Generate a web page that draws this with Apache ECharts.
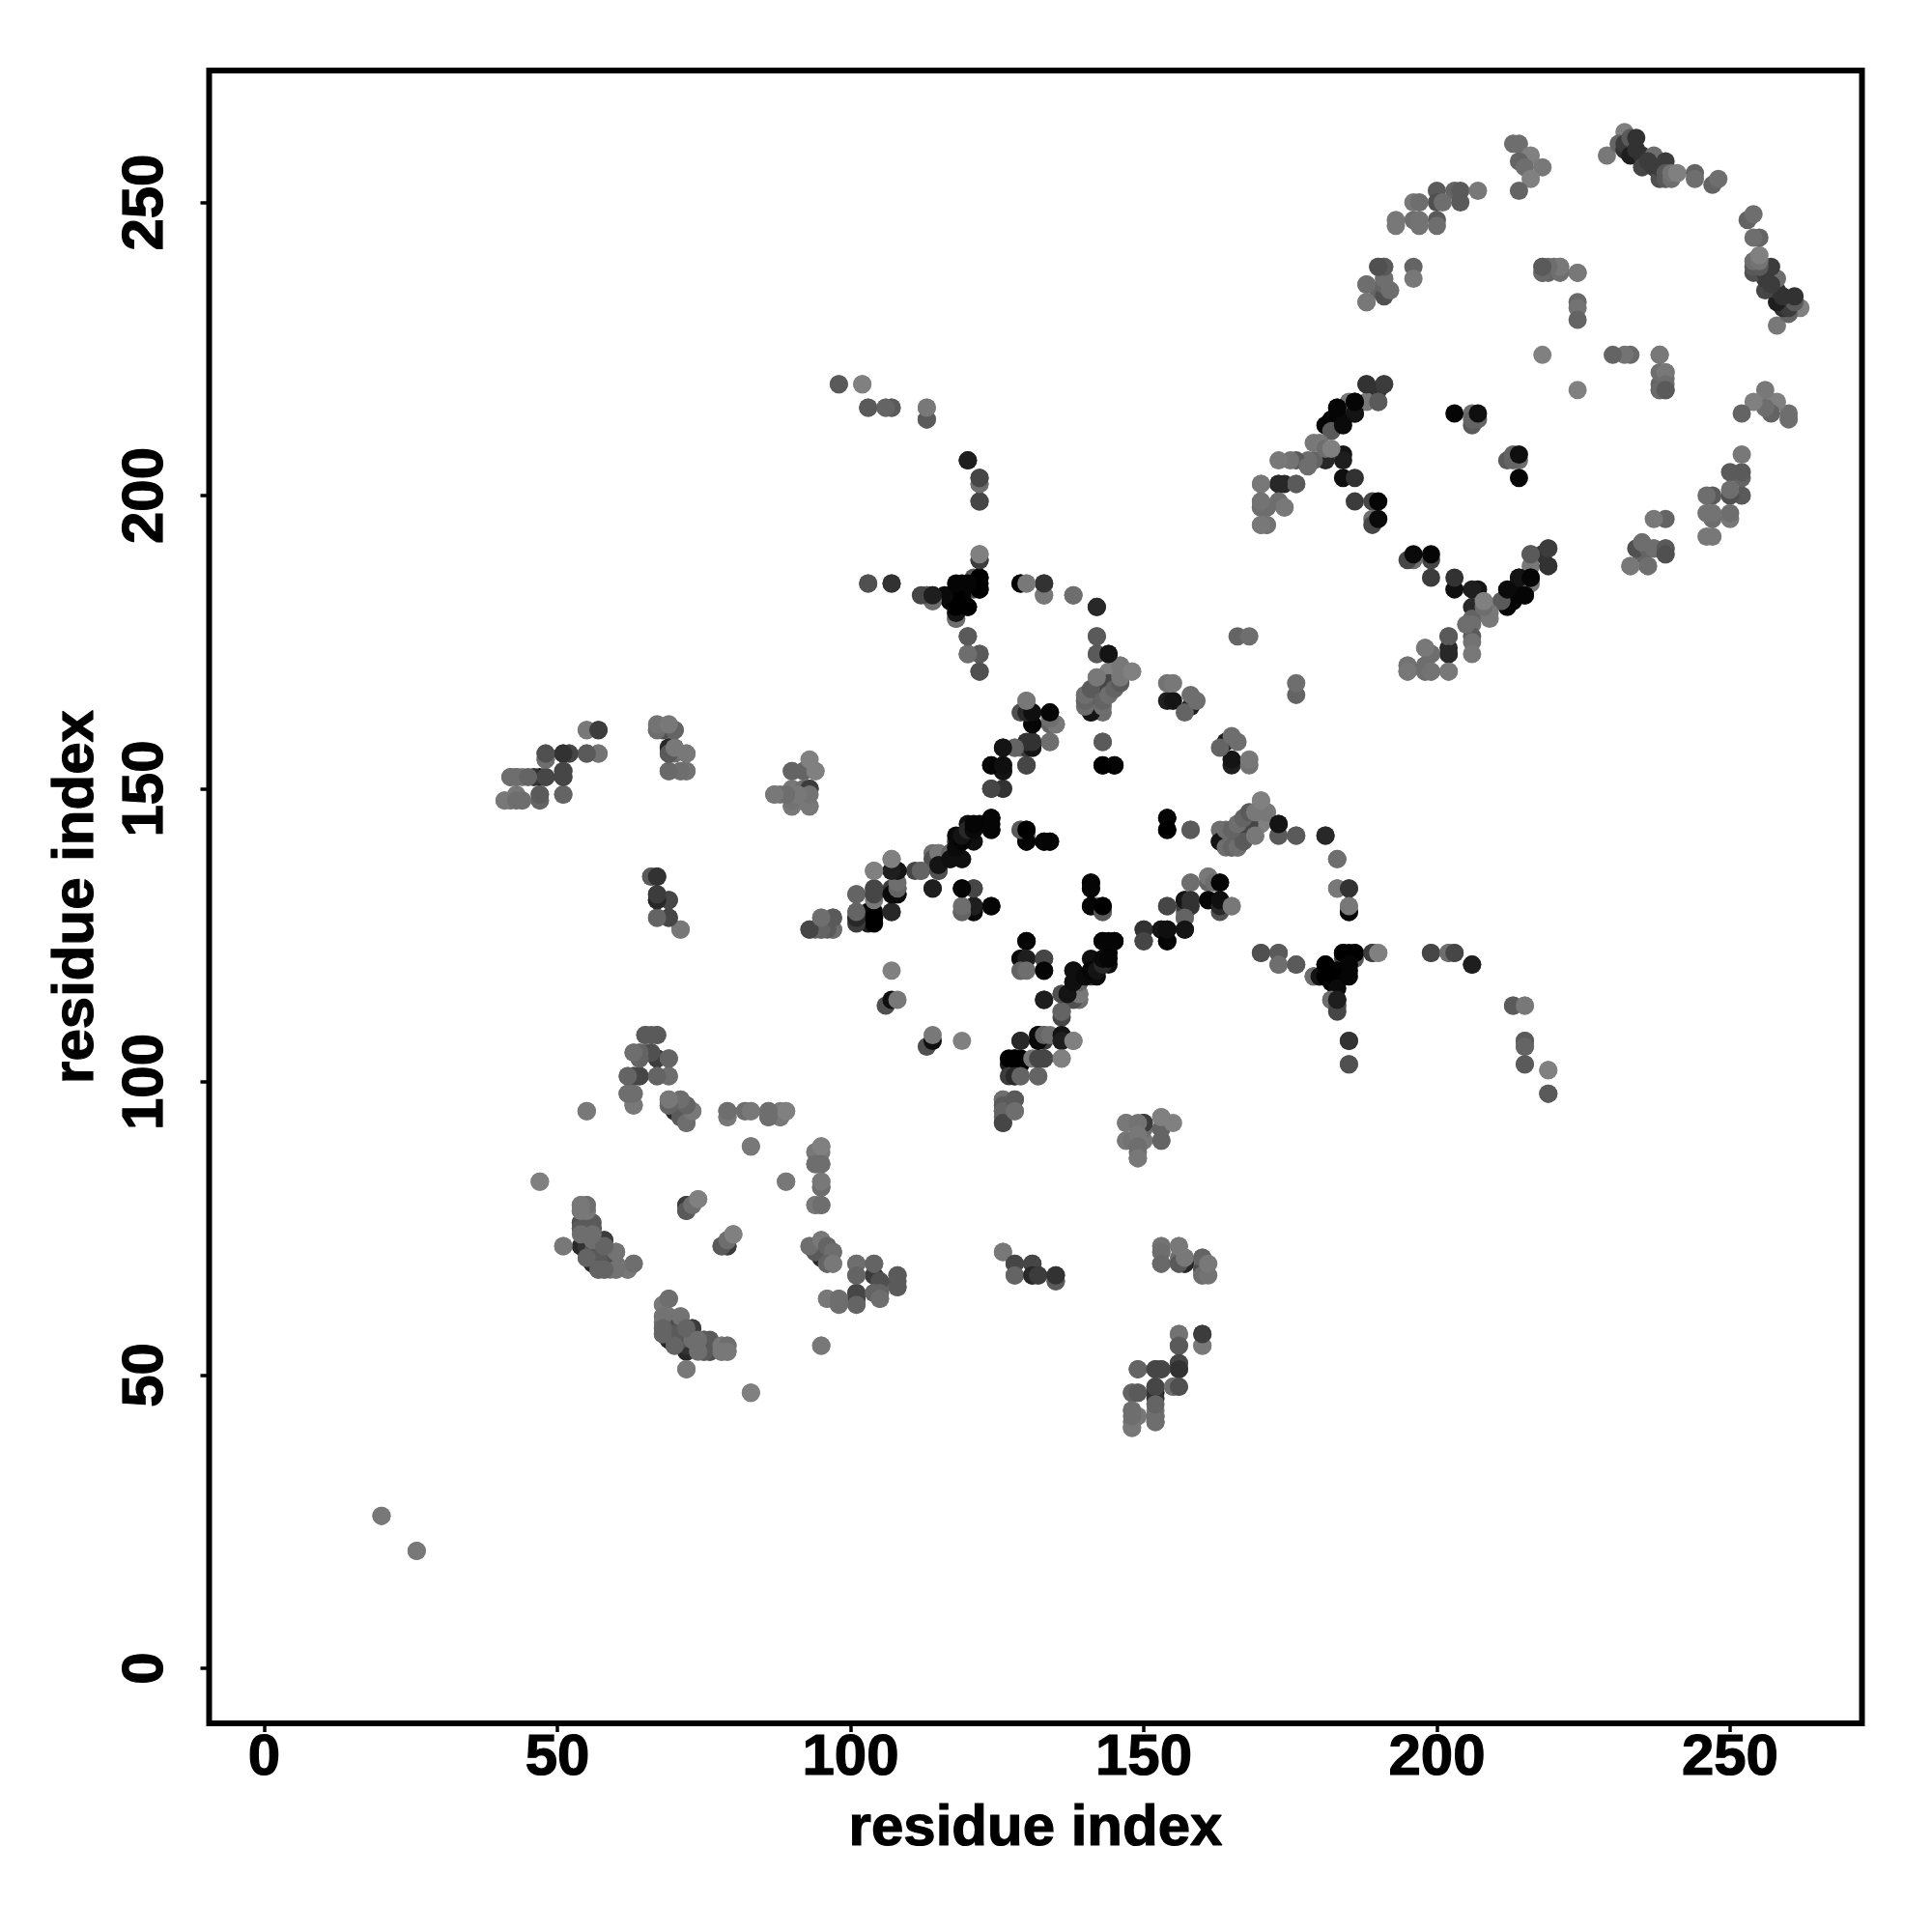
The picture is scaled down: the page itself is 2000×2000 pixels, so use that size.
<!DOCTYPE html>
<html>
<head>
<meta charset="utf-8">
<style>html,body{margin:0;padding:0;background:#fff}#c{width:2000px;height:2000px}</style>
<script src="https://cdn.jsdelivr.net/npm/echarts@6/dist/echarts.min.js"></script>
</head>
<body>
<div id="c"></div>
<script>
// Each row: residue i, residue j, grey level of the contact (0 black .. 128 mid grey)
const tickValues = [0, 50, 100, 150, 200, 250];
const axisTitle = "residue index";

const contactsFarEnd = [
[229,258,120],[232,262,128],[231,260,100],[232,259,50],[232,260,60],[233,258,30],[233,261,90],[234,261,50],[234,259,50],[235,258,50],[235,256,70],[237,258,110],[236,257,60],[237,256,60],[239,257,60],[238,254,80],[238,256,60],[239,255,90],[239,254,90],[240,254,110],[240,255,115],[241,255,128],[244,255,100],[244,254,110],[247,253,100],[248,254,110],
[213,260,110],[214,260,110],[216,258,128],[214,257,100],[215,256,110],[218,256,120],[216,254,128],[214,252,100],
[200,252,90],[203,252,100],[204,252,90],[207,252,120],[204,250,90],[200,250,80],[196,250,120],[197,250,110],[201,250,110],
[200,247,90],[193,247,120],[193,246,120],[196,247,110],[197,247,115],[197,246,115],[200,246,110],
[190,239,110],[191,239,100],[196,239,100],[196,237,120],[191,237,100],[190,235,100],[192,235,120],[188,236,120],[188,233,120],
[218,239,100],[219,238,100],[218,238,100],[220,239,110],[221,239,110],[224,238,120],[224,233,105],[224,232,115],[224,230,100],[218,224,128],
[238,224,120],[238,221,110],[239,221,120],[239,219,110],[238,218,105],[239,218,90],
[234,191,80],[236,191,100],[237,191,110],[239,191,90],[239,190,80],[235,192,110],[236,188,110],[233,188,120]
];

const contactsInnerRing = [
[188,219,70],[191,219,110],[190,218,50],[190,216,90],[188,216,120],[185,216,120],[186,216,10],[186,214,5],[183,215,5],[184,213,10],[182,213,5],[183,212,5],[181,212,5],[182,211,90],
[184,207,20],[184,206,30],[181,206,40],[179,206,100],[178,206,110],[176,206,90],[175,206,115],[173,206,120],[179,209,120],[180,209,120],[181,208,110],[182,208,128],
[178,205,110],[184,203,15],[186,203,50],[170,202,120],[173,202,40],[174,202,40],[176,202,90],[170,199,115],[173,199,110],[174,198,120],[171,198,115],[170,198,110],[170,195,120],[171,195,115],
[186,199,60],[189,199,70],[189,196,110],[189,195,70],[190,199,5],[190,196,10],
[206,214,110],[206,212,90],[206,213,100],[207,213,100],[203,214,5],[207,214,15],
[216,190,90],[214,186,20],[216,186,5],[215,183,5],[212,184,10],[219,191,60],[219,188,50],
[202,176,90],[202,173,40],[202,170,120],[199,173,110],[198,174,120],[195,171,115],[195,170,120],[198,171,110],[198,170,110],[199,170,115],
[166,176,100],[168,176,110]
];

const contactsCentreTop = [
[98,219,100],[102,219,120],[103,215,100],[106,215,100],[107,215,90],[113,215,128],[113,213,100],[120,206,40],[122,203,70],[122,202,110],[122,199,70],
[122,189,60],[122,190,128],[103,185,90],[107,185,60],[113,183,100],[114,182,110],[114,183,40],
[118,179,100],[118,180,50],[121,186,90],[121,184,70],[117,182,10],[117,183,10],[119,185,5],[122,186,15],[122,184,5],[119,183,5],[118,182,5],[120,181,5],
[120,176,90],[120,173,100],[122,173,80],[122,170,80],
[129,185,5],[130,185,128],[133,183,120],[133,185,50],[138,183,120],[142,181,40],[142,176,90],[142,173,100],[144,173,20],
[141,163,70],[141,166,50],[143,165,40],[142,167,60],[146,169,60],[140,166,110],[140,165,110],[142,165,100],[144,168,100],[142,169,120],[143,163,110],[144,166,128],[144,170,128],[146,171,120],[148,170,120],
[143,158,90],[143,154,5],[145,154,10],
[130,165,120],[129,163,80],[131,163,10],[134,163,10],[131,161,10],[134,161,100],[135,161,110],[128,157,110],[126,157,20],[129,157,110],[131,158,40],[131,157,30],[134,158,120],[130,154,80],[124,154,5],[126,154,15],[126,153,15],[124,150,50],[126,150,50],
[154,165,30],[155,165,20],[158,164,30],[154,168,115],[155,168,120],[157,163,100],[158,166,110],[159,165,110]
];

const contactsCentreMid = [
[111,136,70],[112,136,100],[115,136,70],[114,133,30],[114,139,110],[115,139,100],[114,138,80],[117,138,10],[119,138,60],[117,139,15],[118,141,60],[119,141,15],[118,142,10],[120,142,5],[120,144,15],[122,144,5],[124,145,10],[124,143,15],
[107,138,120],[104,136,120],[107,136,60],[108,136,20],[101,132,100],[104,132,30],[104,133,80],[107,133,60],[108,132,10],[108,133,90],[101,129,110],[101,128,40],[103,129,5],[104,129,5],[104,128,10],[107,129,50],
[93,126,70],[94,126,100],[95,126,100],[97,126,90],[95,128,120],[97,128,70],
[119,129,110],[119,133,5],[121,133,70],[121,130,20],[121,129,20],[124,130,10],
[129,143,120],[130,141,5],[130,143,5],[133,141,5],[134,141,0],[141,134,5],[141,133,5],[142,130,110],[141,130,5],[143,129,90],[143,130,0],
[154,145,5],[154,143,0],[158,143,90],[163,141,20],[165,141,50],[166,142,60],[168,144,70],[164,143,110],[164,140,110],[165,140,100],[166,140,110],[167,141,90],[165,143,100],[166,144,110],[167,145,100],[168,146,90],[169,142,120],[169,146,120],[171,146,120],[170,148,128],[173,142,90],[173,144,20],[176,142,90],[181,142,40],
[183,138,110],[183,133,120],[185,133,50],[185,129,5],[185,130,120],
[158,134,110],[161,135,120],[162,134,110],[163,134,5],[154,130,70],[157,130,60],[157,131,20],[158,130,50],[158,131,50],[161,131,5],[163,130,40],[163,131,15],[165,130,120],[157,128,100],[157,126,20],
[150,126,50],[150,124,70],[153,126,20],[154,124,5],[154,126,15]
];

const contactsCentreLow = [
[130,124,5],[129,121,10],[130,121,30],[129,119,100],[130,119,110],[133,121,70],[133,119,5],
[139,115,120],[136,112,100],[136,115,80],[137,115,20],[133,114,30],[139,117,100],[138,117,15],[138,119,15],[140,118,10],[141,121,15],[141,119,5],[142,119,20],[143,120,40],[143,121,10],[144,121,5],[143,124,5],[145,124,5],[144,124,5],
[170,122,80],[173,122,90],[173,120,110],[176,120,90],[179,118,110],[180,118,20],[181,120,0],[181,118,0],[183,118,0],[182,117,0],[183,116,10],[184,122,0],[186,122,0],[185,122,0],[185,120,5],[185,118,5],[189,122,60],[190,122,128],
[182,114,110],[183,113,90],[183,112,70],[183,114,30],[185,107,50],[185,103,80],
[199,122,70],[202,122,110],[203,122,70],[206,120,30],[213,113,90],[215,113,120],[215,107,90],[215,106,100],[215,103,90],[219,102,128],[219,98,90],
[106,113,80],[107,114,15],[108,114,120],[107,119,128],
[126,97,110],[126,96,90],[126,95,100],[126,93,70],[128,97,90],[128,95,110],
[129,107,40],[127,103,30],[127,104,0],[128,104,0],[127,101,60],[128,101,40],[129,101,100],[132,101,100],[131,104,120],[132,104,70],[133,104,70],[132,108,10],[132,107,10],[133,108,100],[134,108,110],[136,108,20],[136,107,30],[138,107,128],[136,104,128]
];

const contactsNTermUpper = [
[55,160,120],[57,160,60],[48,155,110],[48,156,90],[51,156,30],[52,156,80],[55,156,90],[57,156,110],
[42,152,110],[43,152,115],[44,152,120],[47,152,30],[48,152,80],[51,153,70],[51,152,60],[41,148,110],[42,148,115],[43,149,120],[44,148,120],[47,149,90],[47,148,100],[51,149,100],
[68,160,80],[67,160,120],[69,160,120],[70,160,90],[69,157,40],[70,157,110],[69,156,100],[70,156,110],[72,156,120],[69,153,110],[71,153,115],[72,153,120],
[90,153,120],[92,153,110],[93,154,128],[94,153,128],[87,149,120],[88,149,115],[90,150,120],[92,150,110],[90,149,120],[92,149,110],[93,150,50],[90,147,110],[93,147,115],
[66,135,100],[67,135,60],[67,131,30],[67,132,70],[69,131,70],[67,128,110],[69,128,70],[71,126,128]
];

const contactsNTermLower = [
[54,72,40],[55,72,50],[56,69,40],[57,70,60],[58,73,60],[70,95,40],[69,57,40],[72,57,60],[72,55,50],[73,58,60],[76,54,70],[72,79,60],[79,72,60],[95,70,40],[104,67,60],[63,101,60],[64,101,70],[67,104,60],
[55,95,120],[65,108,100],[66,108,90],[67,108,100],[63,105,110],[64,105,110],[65,105,110],[66,105,80],[64,104,110],[69,104,100],
[62,101,110],[67,101,110],[69,101,110],[62,98,110],[63,98,120],[63,96,120],
[69,97,110],[69,96,110],[70,96,110],[71,97,110],[72,96,100],[71,94,110],[72,93,120],[73,95,128],
[79,94,110],[79,95,100],[82,95,120],[83,95,128],[86,94,110],[86,95,115],[88,94,120],[88,95,120],[89,95,128],[83,89,120],[47,83,120],[89,83,120],
[94,88,120],[95,89,128],[94,86,110],[95,86,110],[95,82,110],[95,83,120],[94,79,120],[95,79,110],
[54,76,80],[56,76,90],[54,75,100],[56,75,90],[56,71,80],[55,70,80],[54,79,120],[55,79,120],[54,78,110],[55,78,110],[56,73,110],[51,72,120],[60,71,120],[59,69,110],[60,69,115],[57,68,90],[58,68,100],[59,68,110],[60,68,115],[62,68,120],[63,69,100],
[72,78,80],[73,79,110],[74,80,128],[78,72,90],[79,73,110],[80,74,128],
[94,71,90],[93,72,110],[95,73,120],[96,72,100],[97,71,110],[96,69,100],[97,69,120],
[101,63,70],[101,64,70],[105,66,80],[108,65,90],[108,67,90],[101,69,110],[104,69,100],[101,67,100],[96,63,120],[98,62,110],[98,63,110],[101,62,100],[104,64,100],[105,64,100],[105,63,110],
[95,55,120],[83,47,128],[72,51,120],
[70,58,80],[70,57,90],[75,56,90],[75,54,90],[68,62,120],[69,63,110],[68,60,115],[71,60,115],[68,58,100],[68,57,100],[70,55,100],[72,58,100],[74,56,110],[74,54,110],[78,55,120],[79,55,110],[78,54,120],[79,54,120]
];

const contactsMidSheet = [
[126,71,120],[128,69,70],[131,69,70],[128,67,100],[131,67,40],[132,67,60],[135,66,90],[135,67,50],
[153,72,115],[156,72,120],[153,71,110],[153,69,105],[157,69,40],[156,69,90],[157,70,120],[160,68,80],[160,67,110],[160,70,100],[161,67,115],[161,69,120],
[156,57,115],[156,55,90],[160,55,120],[160,57,60],[156,52,70],[156,51,50],[149,51,100],[152,51,70],[153,51,70],[152,46,50],[152,48,70],[148,47,100],[149,47,90],[155,48,110],[156,48,80],
[148,41,120],[148,43,110],[148,44,110],[152,42,110],[152,43,110],[152,45,100],
[150,93,60],[147,93,120],[147,90,120],[148,90,115],[149,93,115],[149,91,120],[149,89,110],[149,87,120],[153,92,100],[153,90,100],[153,94,128],[155,93,128],
[20,26,120],[26,20,120]
];

const regionLists = [contactsFarEnd, contactsInnerRing, contactsCentreTop, contactsCentreMid, contactsCentreLow, contactsNTermUpper, contactsNTermLower, contactsMidSheet];

// A contact map is symmetric: each contact is drawn at (i,j) and (j,i).
const seriesData = [];
regionLists.forEach(list => list.forEach(([i, j, g]) => {
  seriesData.push([i, j, g]);
  seriesData.push([j, i, g]);
}));

const chart = echarts.init(document.getElementById('c'), null, {renderer: 'canvas'});
const labelFont = {color: '#000', fontFamily: '"Liberation Sans"', fontWeight: 'bold', fontSize: 60, textBorderColor: '#000', textBorderWidth: 1.2};
const tickStyle = {show: true, inside: false, length: 9, customValues: tickValues, lineStyle: {color: '#000', width: 3.5}};

chart.setOption({
  animation: false,
  backgroundColor: '#fff',
  grid: {left: 216.5, top: 73, width: 1711, height: 1711, show: true, borderColor: '#000', borderWidth: 6, backgroundColor: 'transparent'},
  xAxis: {
    type: 'value', min: -9.4, max: 272.5,
    name: axisTitle, nameLocation: 'middle', nameGap: 79, nameMoveOverlap: false, nameTextStyle: labelFont,
    axisLine: {show: false, onZero: false}, splitLine: {show: false}, axisTick: tickStyle,
    axisLabel: Object.assign({show: true, margin: 6, customValues: tickValues, showMinLabel: true, showMaxLabel: true}, labelFont)
  },
  yAxis: {
    type: 'value', min: -9.4, max: 272.5,
    name: axisTitle, nameLocation: 'middle', nameGap: 107, nameMoveOverlap: false, nameTextStyle: labelFont,
    axisLine: {show: false, onZero: false}, splitLine: {show: false}, axisTick: tickStyle,
    axisLabel: Object.assign({show: true, margin: 35, rotate: 90, customValues: tickValues}, labelFont)
  },
  series: [{
    type: 'scatter', symbol: 'circle', symbolSize: 19, data: seriesData, clip: false,
    itemStyle: {opacity: 1, color: p => { const g = p.value[2]; return 'rgb(' + g + ',' + g + ',' + g + ')'; }}
  }]
});
</script>
</body>
</html>
